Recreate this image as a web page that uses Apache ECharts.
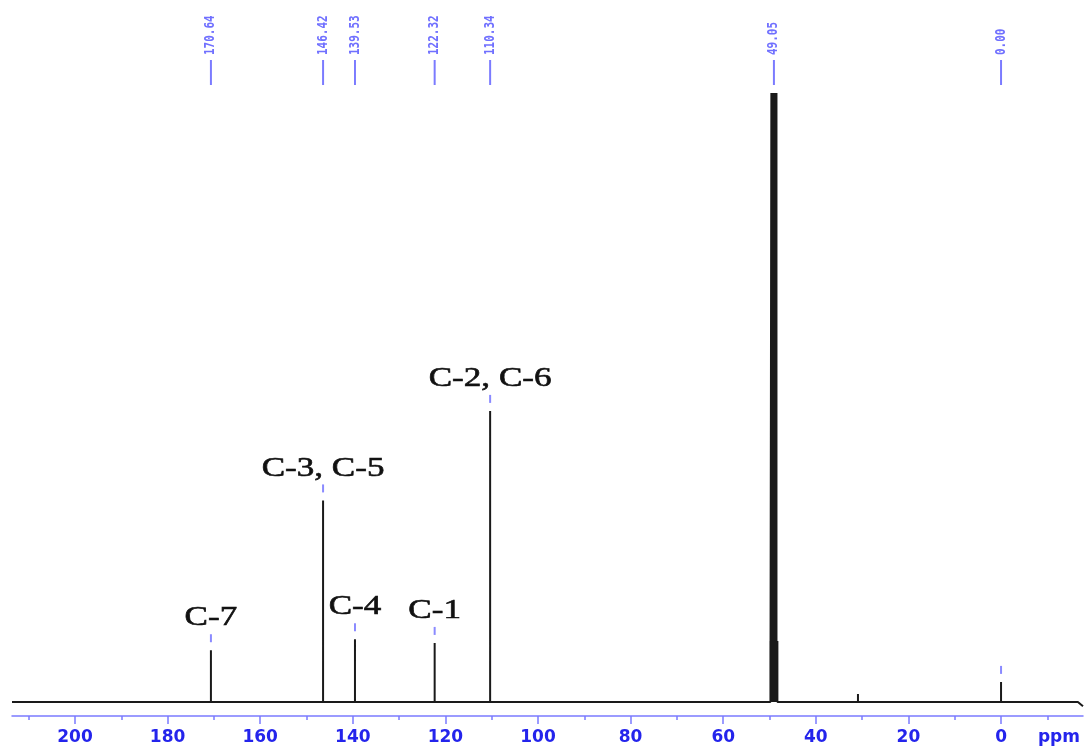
<!DOCTYPE html>
<html>
<head>
<meta charset="utf-8">
<script src="https://cdn.jsdelivr.net/npm/echarts@6/dist/echarts.min.js"></script>
<style>
  html, body { margin: 0; padding: 0; background: #fff; }
  #chart { width: 1086px; height: 751px; }
</style>
</head>
<body>
<div id="chart"></div>
<script>
// 13C NMR stick spectrum, chemical shift in ppm, intensity relative to the solvent peak
const peakPpm = [170.64, 146.42, 139.53, 122.32, 110.34, 49.8, 49.6, 49.35, 49.05, 48.75, 48.5, 48.3, 30.9, 0.0];
const peakHeight = [8.5, 33.1, 10.3, 9.7, 47.8, 10, 100, 100, 100, 100, 100, 10, 1.3, 3.3];

// values printed at the top of the spectrum
const shiftLabels = [170.64, 146.42, 139.53, 122.32, 110.34, 49.05, 0.0];

// carbon assignments
const assignPpm = [170.64, 146.42, 139.53, 122.32, 110.34, 0.0];
const assignName = ["C-7", "C-3, C-5", "C-4", "C-1", "C-2, C-6", ""];

// x axis ticks
const majorTicks = [0, 20, 40, 60, 80, 100, 120, 140, 160, 180, 200];
const minorTicks = [-10, 10, 30, 50, 70, 90, 110, 130, 150, 170, 190, 210];
const tickLabels = [0, 20, 40, 60, 80, 100, 120, 140, 160, 180, 200, -12.5];

const X_MIN = -17.7, X_MAX = 213.6, Y_MIN = -2.3, Y_MAX = 100;

const BLUE_LINE = "#7b7bff";
const BLUE_TEXT = "#2424ec";

// build the trace: flat baseline with a stick at every peak
const trace = [[X_MAX, 0]];
peakPpm.forEach((p, i) => {
  trace.push([p, 0], [p, peakHeight[i]], [p, 0]);
});
trace.push([-16.6, 0], [X_MIN, -0.7]);

const heightAt = (p) => peakHeight[peakPpm.indexOf(p)];

const chart = echarts.init(document.getElementById("chart"), null, { renderer: "canvas" });

chart.setOption({
  animation: false,
  backgroundColor: "#fff",
  grid: { left: 12, right: 3, top: 93, bottom: 35 },
  xAxis: [
    {
      type: "value",
      inverse: true,
      min: X_MIN,
      max: X_MAX,
      splitLine: { show: false },
      axisLine: { onZero: false, lineStyle: { color: BLUE_LINE, width: 1.5 } },
      axisTick: { customValues: majorTicks, length: 8, lineStyle: { color: BLUE_LINE, width: 1.5 } },
      axisLabel: {
        customValues: tickLabels,
        margin: 13,
        color: BLUE_TEXT,
        fontFamily: "DejaVu Sans",
        fontWeight: "bold",
        fontSize: 17,
        formatter: (v) => (v < 0 ? "ppm" : String(v)),
      },
    },
    {
      type: "value",
      inverse: true,
      position: "bottom",
      min: X_MIN,
      max: X_MAX,
      splitLine: { show: false },
      axisLine: { show: false, onZero: false },
      axisTick: { customValues: minorTicks, length: 4, lineStyle: { color: BLUE_LINE, width: 1.5 } },
      axisLabel: { show: false },
    },
  ],
  yAxis: { type: "value", min: Y_MIN, max: Y_MAX, show: false },
  series: [
    {
      type: "line",
      data: trace,
      showSymbol: false,
      lineStyle: { color: "#1a1a1a", width: 2 },
      z: 3,
    },
    {
      // shift values printed above the plot
      type: "custom",
      clip: false,
      data: shiftLabels.map((p) => [p, Y_MAX]),
      renderItem: (params, api) => {
        const pt = api.coord([api.value(0), api.value(1)]);
        return {
          type: "group",
          children: [
            {
              type: "line",
              shape: { x1: pt[0], y1: pt[1] - 33, x2: pt[0], y2: pt[1] - 8 },
              style: { stroke: BLUE_LINE, lineWidth: 2 },
            },
            {
              type: "text",
              x: pt[0],
              y: pt[1] - 38,
              rotation: Math.PI / 2,
              scaleY: 1.25,
              style: {
                text: shiftLabels[params.dataIndex].toFixed(2),
                align: "left",
                verticalAlign: "middle",
                font: "bold 11px 'DejaVu Sans Mono'",
                fill: "#7070ff",
              },
            },
          ],
        };
      },
    },
    {
      // carbon assignments above the peaks
      type: "custom",
      clip: false,
      data: assignPpm.map((p) => [p, heightAt(p)]),
      renderItem: (params, api) => {
        const pt = api.coord([api.value(0), api.value(1)]);
        return {
          type: "group",
          children: [
            {
              type: "line",
              shape: { x1: pt[0], y1: pt[1] - 16, x2: pt[0], y2: pt[1] - 8 },
              style: { stroke: "#8a8aff", lineWidth: 2 },
            },
            {
              type: "text",
              x: pt[0],
              y: pt[1] - 32,
              scaleX: 1.3,
              style: {
                text: assignName[params.dataIndex],
                align: "center",
                verticalAlign: "middle",
                font: "27px 'Liberation Serif'",
                fill: "#111",
                stroke: "#111",
                lineWidth: 0.6,
              },
            },
          ],
        };
      },
    },
  ],
});
</script>
</body>
</html>
